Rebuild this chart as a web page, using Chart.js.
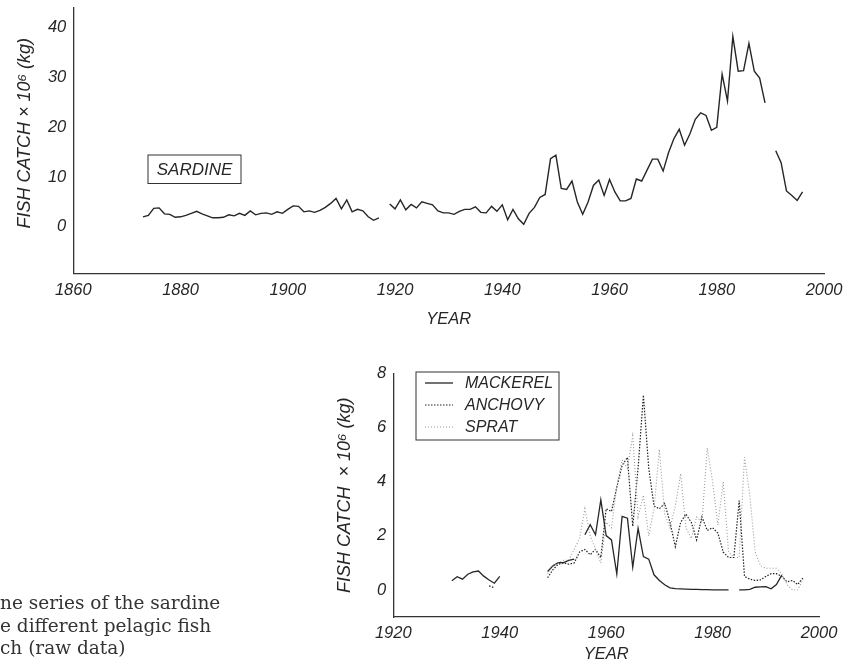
<!DOCTYPE html>
<html>
<head>
<meta charset="utf-8">
<script src="https://cdn.jsdelivr.net/npm/chart.js@4.4.1/dist/chart.umd.min.js"></script>
<style>
  html, body { margin: 0; padding: 0; background: #fff; }
  body { width: 845px; height: 664px; position: relative; overflow: hidden; }
  canvas { position: absolute; left: 0; top: 0; }
  #caption {
    position: absolute; left: 0; top: 592px;
    font: 18.5px 'DejaVu Serif', serif; line-height: 22.5px;
    color: #333; white-space: pre;
  }
</style>
</head>
<body>
<canvas id="sardineChart" width="845" height="340"></canvas>
<canvas id="pelagicChart" width="845" height="664"></canvas>
<div id="caption">ne series of the sardine
e different pelagic fish
ch (raw data)</div>
<script>
// sardine catch, one value per year from 1873 (null = no record)
const sardineStart = 1873;
const sardine = [
  2.0, 2.3, 3.7, 3.8, 2.6, 2.5, 1.9, 2.0, 2.3, 2.7,
  3.1, 2.6, 2.2, 1.8, 1.8, 1.9, 2.4, 2.2, 2.7, 2.3,
  3.2, 2.4, 2.7, 2.8, 2.5, 3.0, 2.7, 3.5, 4.2, 4.1,
  3.0, 3.2, 2.9, 3.3, 3.9, 4.7, 5.7, 3.6, 5.4, 3.0,
  3.5, 3.2, 2.0, 1.3, 1.8, null, 4.6, 3.6, 5.4, 3.4,
  4.5, 3.8, 5.0, 4.7, 4.4, 3.2, 2.8, 2.8, 2.5, 3.1,
  3.5, 3.5, 4.0, 2.9, 2.8, 4.1, 3.1, 4.4, 1.4, 3.5,
  1.6, 0.5, 2.7, 3.9, 5.9, 6.5, 13.7, 14.4, 7.7, 7.5,
  9.2, 5.0, 2.5, 5.0, 8.3, 9.4, 6.3, 9.5, 7.0, 5.2,
  5.2, 5.7, 9.6, 9.2, 11.4, 13.6, 13.6, 11.2, 14.9, 17.7,
  19.6, 16.4, 18.7, 21.6, 22.9, 22.4, 19.4, 20.0, 30.7, 25.3,
  38.3, 31.3, 31.4, 36.9, 31.3, 29.9, 24.9, null, 15.3, 12.9,
  7.2, 6.3, 5.3, 7.0
];

// other pelagic species, one value per year from 1931
const pelagicStart = 1931;
const mackerel = [
  0.34, 0.49, 0.40, 0.58, 0.67, 0.70, 0.51, 0.37, 0.25, 0.50,
  null, null, null, null, null, null, null, null,
  0.68, 0.89, 1.01, 1.01, 1.09, 1.14, null,
  2.04, 2.41, 2.04, 3.33, 2.01, 1.85, 0.59, 2.72, 2.65, 0.84,
  2.28, 1.23, 1.14, 0.56, 0.35, 0.19, 0.08, 0.05, 0.04, 0.03,
  0.02, 0.02, 0.01, 0.01, 0, 0, 0, 0, null,
  0, 0, 0.02, 0.10, 0.11, 0.12, 0.04, 0.20, 0.55,
  null, null, null, null
];
const anchovy = [
  null, null, null, null, null, null, null, 0.15, 0.08,
  null, null, null, null, null, null, null, null, null,
  0.45, 0.75, 0.95, 1.0, 0.95, 1.0, 1.4, 1.5, 1.3, 1.5,
  1.2, 3.0, 2.9, 3.8, 4.6, 4.9, 2.35, 4.5, 7.2, 4.5,
  3.1, 3.0, 3.2, 2.5, 1.6, 2.5, 2.8, 2.5, 1.85, 2.7,
  2.2, 2.3, 2.1, 1.4, 1.2, 1.2, 3.3, 0.5, 0.4, 0.35,
  0.37, 0.5, 0.6, 0.6, 0.5, 0.3, 0.35, 0.2, 0.45
];
const sprat = [
  null, null, null, null, null, null, null, null, null,
  null, null, null, null, null, null, null, null, null,
  0.6, 0.9, 1.0, 1.1, 1.1, 1.5, 1.9, 3.0, 2.0, 1.5,
  1.0, 2.5, 2.3, 3.8, 4.8, 4.5, 5.7, 2.7, 3.5, 2.0,
  3.0, 5.2, 2.8, 2.3, 3.1, 4.3, 2.3, 1.9, 2.7, 2.5,
  5.25, 4.0, 2.4, 4.0, 1.4, 1.2, 1.2, 4.9, 3.5, 1.4,
  0.9, 0.8, 0.8, 0.8, 0.6, 0.2, 0.0, 0.0, 0.4
];

const sardineYearTicks = [1860, 1880, 1900, 1920, 1940, 1960, 1980, 2000];
const sardineValueTicks = [0, 10, 20, 30, 40];
const pelagicYearTicks = [1920, 1940, 1960, 1980, 2000];
const pelagicValueTicks = [0, 2, 4, 6, 8];

const ink = '#262626';
const labelFont = { family: "'Liberation Sans', Arial, sans-serif", style: 'italic', size: 16.5 };
const titleFont = { family: "'Liberation Sans', Arial, sans-serif", style: 'italic', size: 18 };

function toPoints(start, values) {
  return values.map((v, i) => ({ x: start + i, y: v }));
}

function fixedTicks(list) {
  return scale => { scale.ticks = list.map(v => ({ value: v })); };
}

// pin a scale's size so the plot area lands where the figure has it
function pinSize(prop, size) {
  return s => {
    s[prop] = size;
    s.paddingTop = 0; s.paddingBottom = 0;
    s.paddingLeft = 0; s.paddingRight = 0;
  };
}

function axis(min, max, tickList, extra) {
  return Object.assign({
    type: 'linear',
    min: min,
    max: max,
    afterBuildTicks: fixedTicks(tickList),
    grid: { display: false, drawTicks: false },
    border: { display: true, color: '#333', width: 1.3 },
    ticks: { font: labelFont, color: ink, padding: 7, maxRotation: 0, callback: v => String(v) }
  }, extra);
}

// boxed notes drawn over the plot (species label / legend)
const notesPlugin = {
  id: 'notes',
  afterDraw(chart, args, opts) {
    const ctx = chart.ctx;
    ctx.save();
    ctx.strokeStyle = '#333';
    ctx.lineWidth = 1;
    if (opts.label) {
      const b = opts.label;
      ctx.strokeRect(b.x, b.y, b.w, b.h);
      ctx.fillStyle = ink;
      ctx.font = "italic 17px 'Liberation Sans', Arial, sans-serif";
      ctx.textAlign = 'center';
      ctx.textBaseline = 'middle';
      ctx.fillText(b.text, b.x + b.w / 2, b.y + b.h / 2 + 1);
    }
    if (opts.legend) {
      const b = opts.legend;
      ctx.strokeRect(b.x, b.y, b.w, b.h);
      ctx.font = "italic 16px 'Liberation Sans', Arial, sans-serif";
      ctx.textAlign = 'left';
      ctx.textBaseline = 'middle';
      b.order.forEach((idx, row) => {
        const ds = chart.data.datasets[idx];
        const y = b.y + 11 + row * 22;
        ctx.beginPath();
        ctx.setLineDash(ds.borderDash || []);
        ctx.strokeStyle = ds.borderColor;
        ctx.lineWidth = ds.borderWidth;
        ctx.moveTo(b.x + 9, y);
        ctx.lineTo(b.x + 37, y);
        ctx.stroke();
        ctx.setLineDash([]);
        ctx.fillStyle = ink;
        ctx.fillText(ds.label, b.x + 49, y + 1);
      });
    }
    ctx.restore();
  }
};

new Chart(document.getElementById('sardineChart'), {
  type: 'line',
  plugins: [notesPlugin],
  data: {
    datasets: [{
      label: 'SARDINE',
      data: toPoints(sardineStart, sardine),
      borderColor: ink,
      borderWidth: 1.4,
      pointRadius: 0,
      tension: 0,
      spanGaps: false
    }]
  },
  options: {
    responsive: false,
    animation: false,
    layout: { padding: { left: 0, right: 21, top: 8, bottom: 0 } },
    plugins: {
      legend: { display: false },
      tooltip: { enabled: false },
      notes: { label: { x: 148, y: 155, w: 93, h: 28.5, text: 'SARDINE' } }
    },
    scales: {
      x: axis(1860, 2000, sardineYearTicks, {
        afterFit: pinSize('height', 66.5),
        title: { display: true, text: 'YEAR', font: labelFont, color: ink, padding: { top: 0, bottom: 11 } }
      }),
      y: axis(-9.4, 44, sardineValueTicks, {
        afterFit: pinSize('width', 73.3),
        title: { display: true, text: '   FISH CATCH \u00d7 10\u2076 (kg)', font: titleFont, color: ink, padding: { top: 14, bottom: 0 } }
      })
    }
  }
});

new Chart(document.getElementById('pelagicChart'), {
  type: 'line',
  plugins: [notesPlugin],
  data: {
    datasets: [{
      label: 'SPRAT',
      data: toPoints(pelagicStart, sprat),
      borderColor: '#9a9a9a',
      borderWidth: 1.1,
      borderDash: [1, 2],
      pointRadius: 0,
      tension: 0,
      spanGaps: false
    }, {
      label: 'ANCHOVY',
      data: toPoints(pelagicStart, anchovy),
      borderColor: '#222',
      borderWidth: 1.2,
      borderDash: [1.5, 1.5],
      pointRadius: 0,
      tension: 0,
      spanGaps: false
    }, {
      label: 'MACKEREL',
      data: toPoints(pelagicStart, mackerel),
      borderColor: ink,
      borderWidth: 1.3,
      pointRadius: 0,
      tension: 0,
      spanGaps: false
    }]
  },
  options: {
    responsive: false,
    animation: false,
    layout: { padding: { left: 320, right: 26, top: 373.5, bottom: 0 } },
    plugins: {
      legend: { display: false },
      tooltip: { enabled: false },
      notes: { legend: { x: 416, y: 372, w: 143, h: 68, order: [2, 1, 0] } }
    },
    scales: {
      x: axis(1920, 2000, pelagicYearTicks, {
        afterFit: pinSize('height', 47),
        title: { display: true, text: 'YEAR', font: labelFont, color: ink, padding: { top: 0, bottom: 0 } }
      }),
      y: axis(-1, 8, pelagicValueTicks, {
        afterFit: pinSize('width', 73.3),
        title: { display: true, text: 'FISH CATCH  \u00d7 10\u2076 (kg)', font: titleFont, color: ink, padding: { top: 14, bottom: 0 } }
      })
    }
  }
});
</script>
</body>
</html>
